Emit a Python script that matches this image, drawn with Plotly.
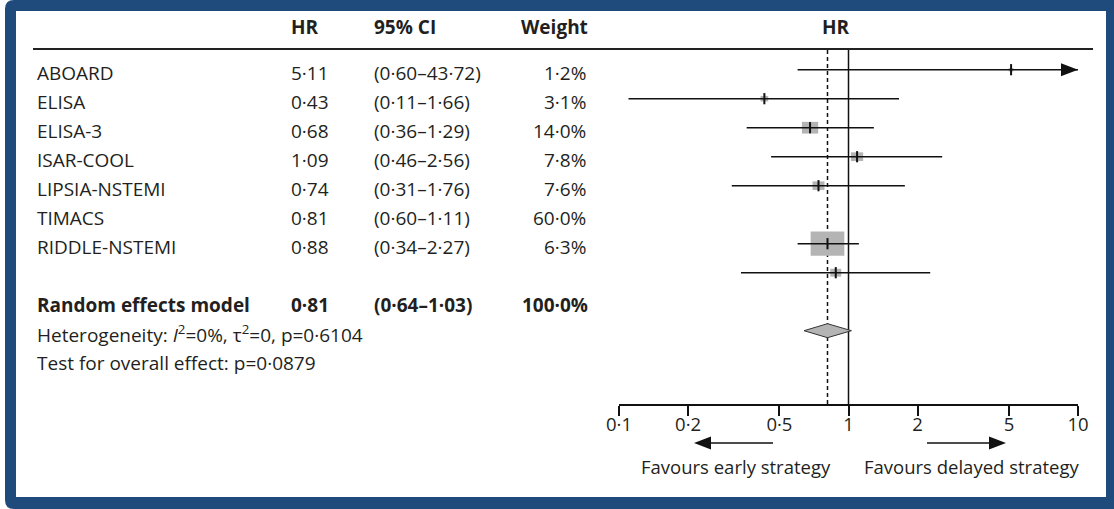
import numpy as np
import plotly.graph_objects as go

# ---------------- data ----------------
studies = ["ABOARD", "ELISA", "ELISA-3", "ISAR-COOL", "LIPSIA-NSTEMI", "TIMACS", "RIDDLE-NSTEMI"]
hr = [5.11, 0.43, 0.68, 1.09, 0.74, 0.81, 0.88]
ci_low = [0.60, 0.11, 0.36, 0.46, 0.31, 0.60, 0.34]
ci_high = [43.72, 1.66, 1.29, 2.56, 1.76, 1.11, 2.27]
weight = [1.2, 3.1, 14.0, 7.8, 7.6, 60.0, 6.3]

pooled_label = "Random effects model"
pooled_hr = 0.81
pooled_low = 0.64
pooled_high = 1.03
pooled_weight = 100.0

heterogeneity_text = "Heterogeneity: <i>I</i><sup>2</sup>=0%, τ<sup>2</sup>=0, p=0·6104"
overall_text = "Test for overall effect: p=0·0879"

tick_values = [0.1, 0.2, 0.5, 1, 2, 5, 10]
tick_labels = ["0·1", "0·2", "0·5", "1", "2", "5", "10"]
favours_left = "Favours early strategy"
favours_right = "Favours delayed strategy"

# ---------------- layout constants ----------------
W, H = 1114, 509
FONT = "Open Sans"
TXT = "#231f20"
INK = "#111111"
BOXC = "#b4b4b4"
BLUE = "#1f4a7c"
FS = 19
FS_AX = 18.5

def px(x):
    return x / W

def py(y):
    return 1 - y / H

def fmt(v, d=2):
    return f"{v:.{d}f}".replace(".", "·")

X_LEFT, X_RIGHT = 619, 1078
Y_TOP, Y_AXIS = 49, 404
ROW0, ROW_STEP = 69.7, 29.0
y_top = -(ROW0 - Y_TOP) / ROW_STEP
y_bot = y_top + (Y_AXIS - Y_TOP) / ROW_STEP

xrange_log = [np.log10(tick_values[0]), np.log10(tick_values[-1])]
xmax = 10 ** xrange_log[1]
px_per_decade = (X_RIGHT - X_LEFT) / (xrange_log[1] - xrange_log[0])

plot_rows = [0, 1, 2, 3, 4, 6, 7]     # rows of the plotted estimates
diamond_row = 9
text_rows = [0, 1, 2, 3, 4, 5, 6]
pooled_text_row = 8
het_row, overall_row = 9, 10

HEAD_LEN, HEAD_HALF = 17, 6.5   # arrowhead size in px

def arrowhead(tip_x, tip_y, direction):
    """Filled triangle in paper coords; tip at pixel (tip_x, tip_y)."""
    bx = tip_x - direction * HEAD_LEN
    return (f"M{px(tip_x)},{py(tip_y)} L{px(bx)},{py(tip_y - HEAD_HALF)} "
            f"L{px(bx)},{py(tip_y + HEAD_HALF)} Z")

fig = go.Figure()

# CI lines
for i in range(len(studies)):
    fig.add_trace(go.Scatter(
        x=[ci_low[i], min(ci_high[i], xmax)], y=[plot_rows[i], plot_rows[i]],
        mode="lines", line=dict(color=INK, width=1.5), hoverinfo="skip", showlegend=False))

# point ticks
fig.add_trace(go.Scatter(
    x=hr, y=plot_rows, mode="markers",
    marker=dict(symbol="line-ns", size=8, line=dict(color=INK, width=2)),
    hoverinfo="skip", showlegend=False))

# diamond
dh = 7 / ROW_STEP
fig.add_trace(go.Scatter(
    x=[pooled_low, pooled_hr, pooled_high, pooled_hr, pooled_low],
    y=[diamond_row, diamond_row - dh, diamond_row, diamond_row + dh, diamond_row],
    mode="lines", fill="toself", fillcolor=BOXC,
    line=dict(color="#333333", width=1), hoverinfo="skip", showlegend=False))

shapes = []
# border (rounded left corners) and white panel
r = 9
frame = (f"M{px(5 + r)},{py(0)} L1,{py(0)} L1,{py(H)} L{px(5 + r)},{py(H)} "
         f"Q{px(5)},{py(H)} {px(5)},{py(H - r)} L{px(5)},{py(r)} Q{px(5)},{py(0)} {px(5 + r)},{py(0)} Z")
shapes.append(dict(type="path", xref="paper", yref="paper", path=frame,
                   fillcolor=BLUE, line=dict(width=0), layer="below"))
shapes.append(dict(type="rect", xref="paper", yref="paper", x0=px(16), x1=px(1106),
                   y0=py(497), y1=py(11), fillcolor="white", line=dict(width=0), layer="below"))
# header rule
shapes.append(dict(type="line", xref="paper", yref="paper", x0=px(33), x1=px(1093),
                   y0=py(49), y1=py(49), line=dict(color="#222222", width=2)))
# reference lines
shapes.append(dict(type="line", xref="x", yref="y domain", x0=pooled_hr, x1=pooled_hr, y0=0, y1=1,
                   line=dict(color=INK, width=1.5, dash="4px,3px"), layer="below"))
shapes.append(dict(type="line", xref="x", yref="y domain", x0=1, x1=1, y0=0, y1=1,
                   line=dict(color=INK, width=1.5), layer="below"))
# weight boxes (size grows with sqrt of weight)
for i in range(len(studies)):
    w = 4.35 * np.sqrt(weight[i])
    h = 0.72 * w
    f = 10 ** (w / 2 / px_per_decade)
    shapes.append(dict(type="rect", xref="x", yref="y",
                       x0=hr[i] / f, x1=hr[i] * f,
                       y0=plot_rows[i] - h / 2 / ROW_STEP, y1=plot_rows[i] + h / 2 / ROW_STEP,
                       fillcolor=BOXC, line=dict(width=0), layer="below"))

# truncated CI arrowhead(s)
for i in range(len(studies)):
    if ci_high[i] > xmax:
        shapes.append(dict(type="path", xref="paper", yref="paper",
                           path=arrowhead(X_RIGHT, ROW0 + ROW_STEP * plot_rows[i], 1),
                           fillcolor=INK, line=dict(width=0)))

# favours arrows
ARROW_Y = 443
shapes.append(dict(type="line", xref="paper", yref="paper", x0=px(773), x1=px(700),
                   y0=py(ARROW_Y), y1=py(ARROW_Y), line=dict(color=INK, width=1.5)))
shapes.append(dict(type="path", xref="paper", yref="paper", path=arrowhead(694, ARROW_Y, -1),
                   fillcolor=INK, line=dict(width=0)))
shapes.append(dict(type="line", xref="paper", yref="paper", x0=px(927), x1=px(1000),
                   y0=py(ARROW_Y), y1=py(ARROW_Y), line=dict(color=INK, width=1.5)))
shapes.append(dict(type="path", xref="paper", yref="paper", path=arrowhead(1006, ARROW_Y, 1),
                   fillcolor=INK, line=dict(width=0)))

ann = []
def text(x, y, s, anchor="left", bold=False, yref="paper", size=FS, yshift=0):
    ann.append(dict(x=x, y=y, xref="paper", yref=yref, text=(f"<b>{s}</b>" if bold else s),
                    showarrow=False, xanchor=anchor, yanchor="middle", yshift=yshift,
                    font=dict(family=FONT, size=size, color=TXT)))

# headers
HEAD_Y = py(27)
text(px(289), HEAD_Y, "HR", bold=True)
text(px(372), HEAD_Y, "95% CI", bold=True)
text(px(590), HEAD_Y, "Weight", anchor="right", bold=True)
text(px(836), HEAD_Y, "HR", anchor="center", bold=True)

TS = -3
for i in range(len(studies)):
    rr = text_rows[i]
    text(px(35), rr, studies[i], yref="y", yshift=TS)
    text(px(289), rr, fmt(hr[i]), yref="y", yshift=TS)
    text(px(372), rr, f"({fmt(ci_low[i])}–{fmt(ci_high[i])})", yref="y", yshift=TS)
    text(px(588), rr, f"{fmt(weight[i], 1)}%", anchor="right", yref="y", yshift=TS)

text(px(35), pooled_text_row, pooled_label, bold=True, yref="y", yshift=TS)
text(px(289), pooled_text_row, fmt(pooled_hr), bold=True, yref="y", yshift=TS)
text(px(372), pooled_text_row, f"({fmt(pooled_low)}–{fmt(pooled_high)})", bold=True, yref="y", yshift=TS)
text(px(590), pooled_text_row, f"{fmt(pooled_weight, 1)}%", anchor="right", bold=True, yref="y", yshift=TS)
text(px(35), het_row, heterogeneity_text, yref="y", yshift=TS)
text(px(35), overall_row, overall_text, yref="y", yshift=TS)

text(px(736), py(466), favours_left, anchor="center", size=FS_AX)
text(px(971), py(466), favours_right, anchor="center", size=FS_AX)

fig.update_layout(
    width=W, height=H, margin=dict(l=0, r=0, t=0, b=0, pad=0, autoexpand=False),
    paper_bgcolor="white", plot_bgcolor="rgba(0,0,0,0)",
    showlegend=False, shapes=shapes, annotations=ann,
    xaxis=dict(type="log", range=xrange_log, domain=[px(X_LEFT), px(X_RIGHT)],
               tickvals=tick_values, ticktext=tick_labels, automargin=False,
               showline=True, linecolor=INK, linewidth=1.5,
               ticks="outside", ticklen=10, tickwidth=1.5, tickcolor=INK,
               ticklabelstandoff=-7,
               showgrid=False, zeroline=False,
               tickfont=dict(family=FONT, size=FS_AX, color=TXT)),
    yaxis=dict(range=[y_bot, y_top], domain=[py(Y_AXIS), py(Y_TOP)], automargin=False,
               visible=False, showgrid=False, zeroline=False),
)

fig.write_html("out.html")
